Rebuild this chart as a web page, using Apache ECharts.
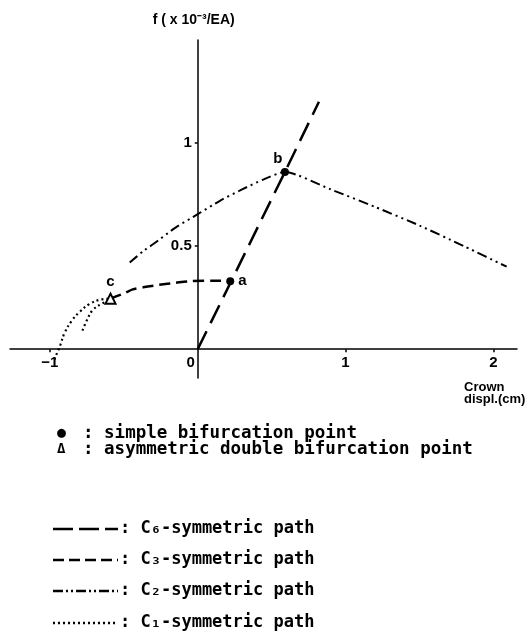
<!DOCTYPE html>
<html>
<head>
<meta charset="utf-8">
<script src="https://cdn.jsdelivr.net/npm/echarts@6/dist/echarts.min.js"></script>
<style>
  html, body { margin: 0; padding: 0; background: #fff; }
  #chart { width: 532px; height: 639px; }
</style>
</head>
<body>
<div id="chart"></div>
<script>
// Load–displacement paths of the dome (crown displacement in cm, load f ×10⁻³/EA)
const xTicks = [-1, 0, 1, 2];
const yTicks = [0.5, 1];

// C6-symmetric path (straight primary path)
const pathC6 = [[0, 0], [0.22, 0.32], [0.59, 0.86], [0.82, 1.2]];
// C3-symmetric path branching at a
const pathC3 = [[-0.59, 0.245], [-0.5, 0.27], [-0.44, 0.29], [-0.37, 0.30], [-0.26, 0.312],
                [-0.15, 0.322], [-0.05, 0.33], [0.1, 0.332], [0.22, 0.33]];
// C2-symmetric path through b
const pathC2 = [[-0.46, 0.42], [-0.37, 0.475], [-0.3, 0.51], [-0.15, 0.59], [0, 0.655],
                [0.15, 0.72], [0.3, 0.775], [0.45, 0.825], [0.59, 0.86],
                [0.9, 0.775], [1.2, 0.69], [1.5, 0.60], [1.8, 0.50], [2.09, 0.40]];
// C1-symmetric paths leaving c
const pathC1a = [[-0.97, -0.05], [-0.93, 0.02], [-0.9, 0.08], [-0.85, 0.14], [-0.8, 0.18],
                 [-0.73, 0.22], [-0.66, 0.24], [-0.59, 0.245]];
const pathC1b = [[-0.78, 0.09], [-0.75, 0.14], [-0.71, 0.19], [-0.65, 0.22], [-0.6, 0.235]];

// bifurcation points
const simplePoints = [
  { name: 'a', value: [0.22, 0.33] },
  { name: 'b', value: [0.59, 0.86], label: { position: 'top', offset: [-7, 2] } }
];
const doublePoints = [{ name: 'c', value: [-0.59, 0.245] }];

const legendItems = [
  { text: ': C₆-symmetric path', dash: [20, 6] },
  { text: ': C₃-symmetric path', dash: [11, 5] },
  { text: ': C₂-symmetric path', dash: [10, 3, 2, 3, 2, 3] },
  { text: ': C₁-symmetric path', dash: [2, 3] }
];

const ink = '#000';
const monoFont = '"DejaVu Sans Mono", "Liberation Mono", monospace';
const sansFont = '"Liberation Sans", Arial, sans-serif';

// plot area and axis ranges
const gridBox = { left: 10, right: 15, top: 40, bottom: 261 };
const W = 532, H = 639;
const xRange = [-1.27, 2.16];
const yRange = [-0.14, 1.5];
const plotW = W - gridBox.left - gridBox.right;
const plotH = H - gridBox.top - gridBox.bottom;
// shift each axis so it runs through the origin
const yAxisShift = -(0 - xRange[0]) / (xRange[1] - xRange[0]) * plotW;
const xAxisShift = -(0 - yRange[0]) / (yRange[1] - yRange[0]) * plotH;

function line(name, data, dash, width, smooth) {
  return {
    name, type: 'line', data, symbol: 'none', smooth: smooth || false,
    lineStyle: { color: ink, width: width, type: dash }, z: 3
  };
}

const pointLabel = {
  show: true, formatter: '{b}', color: ink, fontSize: 15, fontWeight: 'bold', fontFamily: sansFont
};

const graphics = [
  {
    type: 'text', left: 464, top: 381,
    style: { text: 'Crown\ndispl.(cm)', font: 'bold 13px ' + sansFont, fill: ink, lineHeight: 12 }
  },
  { type: 'text', left: 57, top: 426, style: { text: '●', font: 'bold 15px ' + monoFont, fill: ink } },
  { type: 'text', left: 83, top: 424, style: { text: ': simple bifurcation point', font: 'bold 17.5px ' + monoFont, fill: ink } },
  { type: 'text', left: 57, top: 442, style: { text: 'Δ', font: 'bold 14px ' + monoFont, fill: ink } },
  { type: 'text', left: 83, top: 440, style: { text: ': asymmetric double bifurcation point', font: 'bold 17.5px ' + monoFont, fill: ink } }
];
const legendY = [529, 560, 591, 623];
legendItems.forEach((it, i) => {
  graphics.push({
    type: 'line',
    shape: { x1: 53, y1: legendY[i], x2: 118, y2: legendY[i] },
    style: { stroke: ink, lineWidth: 2.5, lineDash: it.dash }
  });
  graphics.push({
    type: 'text', left: 120, top: legendY[i] - 9,
    style: { text: it.text, font: 'bold 17px ' + monoFont, fill: ink }
  });
});

const chart = echarts.init(document.getElementById('chart'));
chart.setOption({
  backgroundColor: '#fff',
  animation: false,
  grid: Object.assign({ containLabel: false, outerBoundsMode: 'none' }, gridBox),
  xAxis: {
    type: 'value', min: xRange[0], max: xRange[1], offset: xAxisShift,
    axisLine: { onZero: false, lineStyle: { color: ink, width: 1.5 } },
    axisTick: { show: true, customValues: [-1, 1, 2], length: 3, lineStyle: { color: ink, width: 1.5 } },
    axisLabel: {
      customValues: xTicks, color: ink, fontSize: 15, fontWeight: 'bold', fontFamily: sansFont, margin: 6,
      formatter: v => v === 0 ? '{z|0}' : (v < 0 ? '−' + Math.abs(v) : String(v)),
      rich: { z: { fontSize: 15, fontWeight: 'bold', fontFamily: sansFont, color: ink, padding: [0, 14, 0, 0] } }
    },
    splitLine: { show: false }
  },
  yAxis: {
    type: 'value', min: yRange[0], max: yRange[1], offset: yAxisShift,
    name: 'f ( x 10⁻³/EA)', nameLocation: 'end', nameGap: 13,
    nameTextStyle: { color: ink, fontSize: 14, fontWeight: 'bold', fontFamily: sansFont, align: 'center', padding: [0, 8, 0, 0] },
    axisLine: { onZero: false, lineStyle: { color: ink, width: 1.5 } },
    axisTick: { show: true, customValues: yTicks, length: 3, lineStyle: { color: ink, width: 1.5 } },
    axisLabel: {
      customValues: yTicks, color: ink, fontSize: 15, fontWeight: 'bold', fontFamily: sansFont, margin: 6,
      formatter: v => String(v)
    },
    splitLine: { show: false }
  },
  graphic: graphics,
  series: [
    line('C6', pathC6, [20, 9], 2.5),
    line('C3', pathC3, [11, 6], 2.5, 0.3),
    line('C2', pathC2, [10, 4, 2, 4, 2, 4], 2, 0.2),
    line('C1a', pathC1a, [2, 3], 2.2, 0.4),
    line('C1b', pathC1b, [2, 3], 2.2, 0.4),
    {
      name: 'simple', type: 'scatter', data: simplePoints, symbol: 'circle', symbolSize: 8,
      itemStyle: { color: ink, opacity: 1 }, z: 5,
      label: Object.assign({ position: 'right', distance: 4 }, pointLabel)
    },
    {
      name: 'double', type: 'scatter', data: doublePoints, symbol: 'triangle', symbolSize: 10,
      itemStyle: { color: '#fff', borderColor: ink, borderWidth: 2, opacity: 1 }, z: 5,
      label: Object.assign({ position: 'top', distance: 3 }, pointLabel)
    }
  ]
});
</script>
</body>
</html>
